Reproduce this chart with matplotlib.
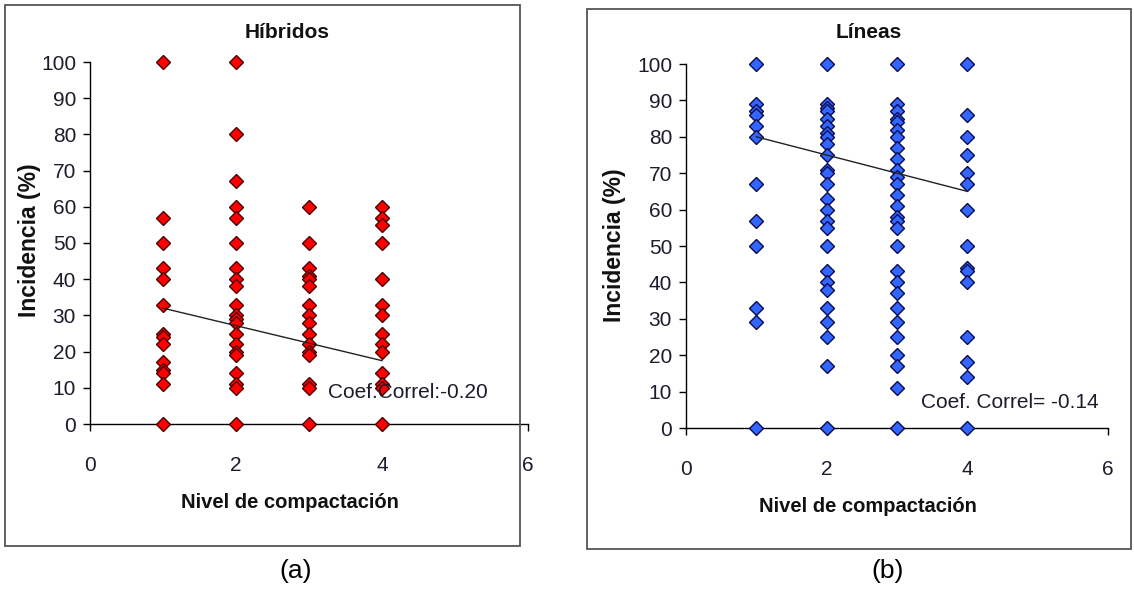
import numpy as np
import matplotlib
matplotlib.use('Agg')
import matplotlib.pyplot as plt
from matplotlib.patches import Rectangle

plt.rcParams['font.family'] = ['Liberation Sans', 'DejaVu Sans']

# Híbridos (a)
hib_x1 = [100, 57, 50, 43, 40, 33, 25, 24, 22, 17, 15, 14, 11, 0]
hib_x2 = [100, 80, 67, 60, 57, 50, 43, 40, 38, 33, 30, 29, 28, 25, 22, 20, 19, 14, 11, 10, 0]
hib_x3 = [60, 50, 43, 41, 40, 38, 33, 30, 28, 25, 22, 20, 19, 11, 10, 0]
hib_x4 = [60, 57, 55, 50, 40, 33, 30, 25, 22, 20, 14, 11, 10, 0]
hib_trend = [32, 17.5]

# Líneas (b)
lin_x1 = [100, 89, 87, 86, 83, 80, 67, 57, 50, 33, 29, 0]
lin_x2 = [100, 89, 88, 87, 85, 83, 81, 80, 78, 75, 71, 70, 67, 63, 60, 57, 55,
          50, 43, 40, 38, 33, 29, 25, 17, 0]
lin_x3 = [100, 89, 87, 85, 84, 82, 80, 77, 74, 71, 69, 67, 64, 61, 58, 57, 55,
          50, 43, 40, 37, 33, 29, 25, 20, 17, 11, 0]
lin_x4 = [100, 86, 80, 75, 70, 67, 60, 50, 44, 43, 40, 25, 18, 14, 0]
lin_trend = [80, 65]

niveles = [1, 2, 3, 4]
trend_x = [1, 4]
xticks = [0, 2, 4, 6]
yticks = np.arange(0, 101, 10)

W, H = 1134, 590
fig = plt.figure(figsize=(W / 100, H / 100), dpi=100)

txt_col = '#1c1c2c'


def px_axes(l, t, r, b):
    return fig.add_axes([l / W, 1 - b / H, (r - l) / W, (b - t) / H])


def panel(ax, cols, trend, face, edge, coef, coef_xy):
    for xv, ys in zip(niveles, cols):
        ax.plot([xv] * len(ys), ys, linestyle='none', marker='D', ms=7,
                mfc=face, mec=edge, mew=1.0, zorder=3, clip_on=False)
    ax.plot(trend_x, trend, color='#222222', lw=1.0, zorder=4)
    ax.set_xlim(0, 6)
    ax.set_ylim(0, 100)
    ax.set_xticks(xticks)
    ax.set_yticks(yticks)
    for s in ['top', 'right']:
        ax.spines[s].set_visible(False)
    for s in ['left', 'bottom']:
        ax.spines[s].set_color('black')
        ax.spines[s].set_linewidth(1.0)
        ax.spines[s].set_zorder(1)
    ax.tick_params(axis='y', direction='out', length=5, width=1, pad=5,
                   labelsize=15, labelcolor=txt_col)
    ax.tick_params(axis='x', direction='out', length=5, width=1, pad=18,
                   labelsize=15, labelcolor=txt_col)
    ax.set_facecolor('none')
    ax.text(coef_xy[0], coef_xy[1], coef, fontsize=15, color=txt_col,
            va='center', ha='left', zorder=5)


# panel (a)
fig.patches.append(Rectangle((5 / W, 1 - 546 / H), 515 / W, 541 / H,
                             transform=fig.transFigure, fill=False,
                             edgecolor='#555555', lw=1.3))
ax1 = px_axes(90, 62, 528, 424)
panel(ax1, [hib_x1, hib_x2, hib_x3, hib_x4], hib_trend, '#ff0000', '#4a0000',
      'Coef.Correl:-0.20', (3.26, 8.8))
fig.text(287 / W, 1 - 32 / H, 'Híbridos', fontsize=15, fontweight='bold',
         ha='center', va='center', color='#111111')
fig.text(290 / W, 1 - 502 / H, 'Nivel de compactación', fontsize=14.5,
         fontweight='bold', ha='center', va='center', color='#111111')
fig.text(30 / W, 1 - 240 / H, 'Incidencia (%)', fontsize=16.5, fontweight='bold',
         ha='center', va='center', rotation=90, color='#111111')
fig.text(296 / W, 1 - 571 / H, '(a)', fontsize=19, ha='center', va='center')

# panel (b)
fig.patches.append(Rectangle((587 / W, 1 - 549 / H), 544 / W, 540 / H,
                             transform=fig.transFigure, fill=False,
                             edgecolor='#555555', lw=1.3))
ax2 = px_axes(686, 64, 1108, 428)
panel(ax2, [lin_x1, lin_x2, lin_x3, lin_x4], lin_trend, '#3366ff', '#0a0a50',
      'Coef. Correl= -0.14', (3.34, 7.1))
fig.text(869 / W, 1 - 33 / H, 'Líneas', fontsize=15, fontweight='bold',
         ha='center', va='center', color='#111111')
fig.text(868 / W, 1 - 507 / H, 'Nivel de compactación', fontsize=14.5,
         fontweight='bold', ha='center', va='center', color='#111111')
fig.text(615 / W, 1 - 245 / H, 'Incidencia (%)', fontsize=16.5, fontweight='bold',
         ha='center', va='center', rotation=90, color='#111111')
fig.text(888 / W, 1 - 571 / H, '(b)', fontsize=19, ha='center', va='center')

fig.savefig('out.png', dpi=100, facecolor='white')
